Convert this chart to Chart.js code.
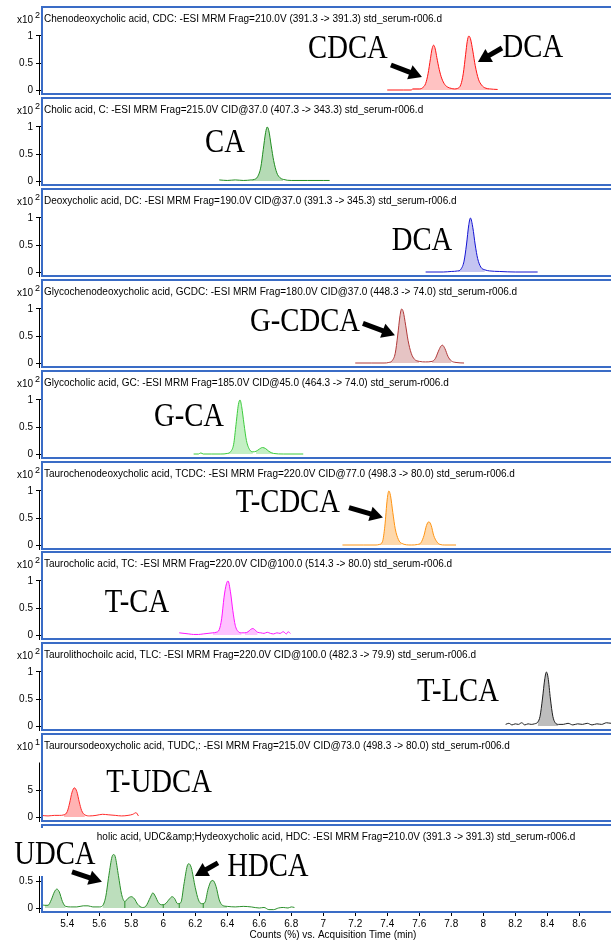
<!DOCTYPE html>
<html><head><meta charset="utf-8">
<script src="https://cdn.jsdelivr.net/npm/chart.js@4.4.0/dist/chart.umd.min.js"></script>
<style>
html,body{margin:0;padding:0;background:#fff;}
#wrap{position:relative;width:611px;height:942px;overflow:hidden;background:#fff;}
#wrap canvas{position:absolute;left:0;}
</style></head><body><div id="wrap"></div>
<script>
// ---------------- DATA ----------------
const xTickValues = [5.4,5.6,5.8,6,6.2,6.4,6.6,6.8,7,7.2,7.4,7.6,7.8,8,8.2,8.4,8.6];
const xTickLabels = ['5.4','5.6','5.8','6','6.2','6.4','6.6','6.8','7','7.2','7.4','7.6','7.8','8','8.2','8.4','8.6'];
const xAxisTitle = 'Counts (%) vs. Acquisition Time (min)';
const panelTitles = [
  'Chenodeoxycholic acid, CDC: -ESI MRM Frag=210.0V (391.3 -> 391.3) std_serum-r006.d',
  'Cholic acid, C: -ESI MRM Frag=215.0V CID@37.0 (407.3 -> 343.3) std_serum-r006.d',
  'Deoxycholic acid, DC: -ESI MRM Frag=190.0V CID@37.0 (391.3 -> 345.3) std_serum-r006.d',
  'Glycochenodeoxycholic acid, GCDC: -ESI MRM Frag=180.0V CID@37.0 (448.3 -> 74.0) std_serum-r006.d',
  'Glycocholic acid, GC: -ESI MRM Frag=185.0V CID@45.0 (464.3 -> 74.0) std_serum-r006.d',
  'Taurochenodeoxycholic acid, TCDC: -ESI MRM Frag=220.0V CID@77.0 (498.3 -> 80.0) std_serum-r006.d',
  'Taurocholic acid, TC: -ESI MRM Frag=220.0V CID@100.0 (514.3 -> 80.0) std_serum-r006.d',
  'Taurolithochoilc acid, TLC: -ESI MRM Frag=220.0V CID@100.0 (482.3 -> 79.9) std_serum-r006.d',
  'Tauroursodeoxycholic acid, TUDC,: -ESI MRM Frag=215.0V CID@73.0 (498.3 -> 80.0) std_serum-r006.d',
  'Ursodeoxycholic acid, UDC&amp;Hydeoxycholic acid, HDC: -ESI MRM Frag=210.0V (391.3 -> 391.3) std_serum-r006.d'
];
const yExponents = [2,2,2,2,2,2,2,2,1,2];
const yUnits = [1,1,1,1,1,1,1,1,10,1];
const yTickSets = [[0,0.5,1],[0,0.5,1],[0,0.5,1],[0,0.5,1],[0,0.5,1],[0,0.5,1],[0,0.5,1],[0,0.5,1],[0,5],[0,0.5,1]];

const cdcTime   = [7.40,7.50,7.55,7.56,7.60,7.62,7.64,7.655,7.67,7.68,7.69,7.70,7.71,7.725,7.74,7.76,7.78,7.80,7.82,7.84,7.86,7.875,7.89,7.90,7.91,7.92,7.935,7.95,7.97,7.99,8.01,8.04,8.09];
const cdcCounts = [0.00,0.00,0.00,0.02,0.02,0.04,0.12,0.30,0.58,0.76,0.83,0.76,0.60,0.38,0.22,0.10,0.05,0.03,0.02,0.03,0.10,0.30,0.66,0.90,1.00,0.95,0.72,0.45,0.20,0.09,0.04,0.02,0.01];

const caTime   = [6.35,6.40,6.45,6.50,6.55,6.57,6.59,6.61,6.625,6.64,6.65,6.66,6.675,6.69,6.71,6.73,6.75,6.80,6.90,7.00,7.04];
const caCounts = [0.02,0.01,0.02,0.01,0.02,0.03,0.08,0.26,0.58,0.90,1.00,0.93,0.65,0.38,0.15,0.06,0.03,0.01,0.01,0.01,0.01];

const dcTime   = [7.64,7.75,7.80,7.84,7.86,7.88,7.895,7.91,7.92,7.935,7.95,7.965,7.985,8.01,8.04,8.10,8.20,8.34];
const dcCounts = [0.00,0.00,0.01,0.02,0.05,0.20,0.50,0.88,1.00,0.82,0.50,0.25,0.09,0.04,0.02,0.01,0.00,0.00];

const gcdcTime   = [7.20,7.30,7.38,7.41,7.43,7.45,7.465,7.48,7.49,7.50,7.515,7.53,7.55,7.57,7.60,7.64,7.68,7.70,7.72,7.735,7.745,7.76,7.78,7.80,7.83,7.88];
const gcdcCounts = [0.00,0.00,0.00,0.01,0.04,0.18,0.50,0.88,1.00,0.95,0.70,0.42,0.18,0.07,0.03,0.02,0.03,0.08,0.22,0.31,0.33,0.27,0.12,0.04,0.01,0.00];

const gcTime   = [6.19,6.22,6.235,6.25,6.30,6.36,6.40,6.42,6.44,6.455,6.47,6.48,6.49,6.505,6.52,6.54,6.56,6.58,6.60,6.62,6.64,6.66,6.69,6.75,6.875];
const gcCounts = [0.00,0.00,0.02,0.00,0.00,0.00,0.01,0.04,0.18,0.55,0.92,1.00,0.88,0.55,0.25,0.08,0.04,0.05,0.09,0.12,0.10,0.05,0.01,0.00,0.00];

const tcdcTime   = [7.12,7.25,7.33,7.35,7.37,7.385,7.40,7.41,7.42,7.435,7.45,7.47,7.49,7.55,7.59,7.61,7.63,7.645,7.66,7.675,7.69,7.71,7.73,7.76,7.83];
const tcdcCounts = [0.00,0.00,0.00,0.01,0.06,0.35,0.85,1.00,0.92,0.60,0.30,0.10,0.03,0.00,0.01,0.04,0.18,0.36,0.43,0.36,0.18,0.06,0.01,0.00,0.00];

const tcTime   = [6.10,6.13,6.16,6.19,6.22,6.25,6.28,6.31,6.33,6.35,6.365,6.38,6.395,6.405,6.42,6.435,6.45,6.47,6.49,6.51,6.53,6.545,6.56,6.575,6.59,6.61,6.63,6.65,6.67,6.69,6.71,6.73,6.75,6.77,6.78,6.795];
const tcCounts = [0.04,0.03,0.02,0.01,0.01,0.02,0.03,0.04,0.05,0.10,0.30,0.70,0.95,1.00,0.80,0.45,0.18,0.06,0.04,0.04,0.06,0.10,0.12,0.09,0.05,0.04,0.03,0.05,0.03,0.02,0.04,0.03,0.06,0.02,0.06,0.03];

const tlcTime   = [8.14,8.16,8.18,8.20,8.22,8.24,8.26,8.28,8.30,8.32,8.34,8.355,8.37,8.385,8.395,8.405,8.42,8.435,8.45,8.47,8.50,8.53,8.56,8.59,8.62,8.65,8.68,8.71,8.74,8.77,8.80,8.83,8.86,8.89];
const tlcCounts = [0.03,0.05,0.02,0.04,0.03,0.06,0.02,0.04,0.03,0.04,0.07,0.18,0.50,0.88,1.00,0.90,0.50,0.18,0.06,0.03,0.03,0.05,0.02,0.04,0.03,0.05,0.02,0.04,0.03,0.06,0.05,0.09,0.07,0.10];

const tudcTime   = [5.24,5.28,5.32,5.35,5.38,5.40,5.415,5.43,5.445,5.46,5.475,5.49,5.51,5.54,5.58,5.62,5.66,5.70,5.74,5.78,5.81,5.83,5.845];
const tudcCounts = [0.3,0.2,0.3,0.3,0.4,1.0,2.6,4.6,5.4,4.7,2.8,1.2,0.4,0.2,0.3,0.5,0.4,0.3,0.2,0.3,0.5,0.8,0.2];

const udcTime   = [5.24,5.26,5.28,5.30,5.32,5.335,5.35,5.37,5.39,5.42,5.46,5.50,5.53,5.56,5.60,5.62,5.64,5.66,5.68,5.69,5.70,5.72,5.74,5.76,5.78,5.80,5.82,5.84,5.87,5.89,5.92,5.935,5.95,5.97,5.99,6.01,6.04,6.055,6.07,6.09,6.11,6.13,6.15,6.16,6.175,6.20,6.22,6.24,6.26,6.28,6.30,6.31,6.33,6.35,6.37,6.40,6.45,6.50,6.55,6.60,6.63,6.66,6.69,6.72,6.75,6.78,6.80,6.82];
const udcCounts = [0.06,0.05,0.05,0.15,0.30,0.35,0.30,0.12,0.03,0.02,0.02,0.04,0.04,0.02,0.02,0.04,0.20,0.60,0.95,0.99,0.95,0.60,0.25,0.12,0.18,0.21,0.17,0.07,0.01,0.03,0.20,0.28,0.22,0.10,0.06,0.07,0.17,0.21,0.18,0.08,0.10,0.45,0.78,0.82,0.75,0.38,0.15,0.08,0.10,0.35,0.50,0.51,0.40,0.15,0.05,0.03,0.02,0.03,0.02,0.00,0.01,-0.03,-0.03,0.00,0.01,0.00,0.02,0.01];
const udcDropTimes  = [5.76,6.00,6.10,6.25];
const udcDropCounts = [0.12,0.065,0.09,0.09];

// ---------------- PANEL SETUP ----------------
const seriesTime   = [cdcTime,caTime,dcTime,gcdcTime,gcTime,tcdcTime,tcTime,tlcTime,tudcTime,udcTime];
const seriesCounts = [cdcCounts,caCounts,dcCounts,gcdcCounts,gcCounts,tcdcCounts,tcCounts,tlcCounts,tudcCounts,udcCounts];
const fillRanges = [
  [[7.56,8.05]],[[6.55,6.76]],[[7.83,8.03]],[[7.40,7.62],[7.67,7.82]],[[6.38,6.57],[6.57,6.69]],
  [[7.34,7.50],[7.59,7.74]],[[6.31,6.50],[6.50,6.60]],[[8.33,8.48]],[[5.38,5.52]],[[5.26,5.40],[5.62,6.40]]
];
const lineColors = ['#ff1414','#1e8c1e','#1212d2','#b03838','#3ccc3c','#ff9412','#ff14ff','#1e1e1e','#ff2a2a','#2a8f2a'];
const fillColors = ['#ffc2c2','#b5dbb5','#c4c4f2','#e6c4c4','#c4f0c4','#fed8ab','#ffc2ff','#bdbdbd','#ffb3b3','#bcdebc'];
const annotations = [
  {labels:[{t:'CDCA',x:7.154,y:0.76},{t:'DCA',x:8.31,y:0.78}], arrows:[[7.423,0.463,7.617,0.241],[8.117,0.778,7.967,0.519]]},
  {labels:[{t:'CA',x:6.386,y:0.70}], arrows:[]},
  {labels:[{t:'DCA',x:7.617,y:0.57}], arrows:[]},
  {labels:[{t:'G-CDCA',x:6.886,y:0.75}], arrows:[[7.248,0.735,7.448,0.513]]},
  {labels:[{t:'G-CA',x:6.161,y:0.68}], arrows:[]},
  {labels:[{t:'T-CDCA',x:6.779,y:0.77}], arrows:[[7.161,0.694,7.373,0.509]]},
  {labels:[{t:'T-CA',x:5.836,y:0.58}], arrows:[]},
  {labels:[{t:'T-LCA',x:7.842,y:0.62}], arrows:[]},
  {labels:[{t:'T-UDCA',x:5.974,y:6.3}], arrows:[]},
  {labels:[{t:'UDCA',x:5.323,y:0.98},{t:'HDCA',x:6.654,y:0.76}], arrows:[[5.43,0.669,5.617,0.484],[6.342,0.835,6.198,0.594]], cover:true}
];

const X_MIN = 5.236, X_MAX = 8.886;
const PITCH = 90.9;
const SANS = '"Liberation Sans", Arial, sans-serif';
const SERIF = '"Liberation Serif", "Times New Roman", serif';
Chart.defaults.font.family = SANS;

function drawArrow(ctx,x1,y1,x2,y2){
  const ang = Math.atan2(y2-y1,x2-x1), L = 13, W = 7.5;
  const bx = x2 - L*Math.cos(ang), by = y2 - L*Math.sin(ang);
  ctx.strokeStyle = '#000'; ctx.fillStyle = '#000';
  ctx.lineWidth = 5; ctx.lineCap = 'butt';
  ctx.beginPath(); ctx.moveTo(x1,y1); ctx.lineTo(bx+Math.cos(ang),by+Math.sin(ang)); ctx.stroke();
  ctx.beginPath(); ctx.moveTo(x2,y2);
  ctx.lineTo(bx - W*Math.sin(ang), by + W*Math.cos(ang));
  ctx.lineTo(bx + W*Math.sin(ang), by - W*Math.cos(ang));
  ctx.closePath(); ctx.fill();
}

const decoPlugin = {
  id: 'deco',
  afterDraw(chart, args, o) {
    const {ctx, chartArea: a, scales: {x, y}} = chart;
    ctx.save();
    const yt = y.getPixelForValue(o.topTick);
    ctx.strokeStyle = '#000'; ctx.lineWidth = 1;
    ctx.beginPath(); ctx.moveTo(39.5, yt - 0.5); ctx.lineTo(39.5, a.bottom + 1); ctx.stroke();
    ctx.strokeStyle = '#3a6cc6'; ctx.lineWidth = 2;
    ctx.strokeRect(a.left + 1, a.top, (a.right - a.left) + 30, a.bottom - a.top);
    ctx.fillStyle = '#000';
    ctx.font = '10px ' + SANS; ctx.textBaseline = 'middle'; ctx.textAlign = 'left';
    ctx.fillText(o.title, a.left + 3, a.top + 12);
    ctx.textAlign = 'right'; ctx.fillText('x10', 33, a.top + 13);
    ctx.textAlign = 'left'; ctx.font = '9px ' + SANS; ctx.fillText(String(o.exp), 35, a.top + 9);
    if (o.cover) { ctx.fillStyle = '#fff'; ctx.fillRect(11, a.top + 3, 86, 48); }
    ctx.fillStyle = '#000';
    o.labels.forEach(l => {
      ctx.save();
      ctx.translate(x.getPixelForValue(l.x), y.getPixelForValue(l.y));
      ctx.scale(0.87, 1);
      ctx.font = '33px ' + SERIF; ctx.textAlign = 'center'; ctx.textBaseline = 'middle';
      ctx.fillText(l.t, 0, 0);
      ctx.restore();
    });
    o.arrows.forEach(r => drawArrow(ctx, x.getPixelForValue(r[0]), y.getPixelForValue(r[1]), x.getPixelForValue(r[2]), y.getPixelForValue(r[3])));
    ctx.restore();
  }
};

const wrap = document.getElementById('wrap');
for (let i = 0; i < 10; i++) {
  const isLast = i === 9;
  const top = Math.round(PITCH * i) - 4;
  const h = isLast ? 942 - top : 108;
  const c = document.createElement('canvas');
  c.width = 640; c.height = h;
  c.style.width = '640px'; c.style.height = h + 'px'; c.style.top = top + 'px';
  wrap.appendChild(c);

  const ticks = yTickSets[i];
  const unit = yUnits[i];
  const yMin = -0.074 * unit, yMax = 1.537 * unit;
  const tArr = seriesTime[i], cArr = seriesCounts[i];
  const pts = tArr.map((t, k) => ({x: t, y: cArr[k]}));

  const datasets = [{
    data: pts, borderColor: lineColors[i], borderWidth: 1, pointRadius: 0, fill: false,
    cubicInterpolationMode: 'monotone', order: 0
  }];
  fillRanges[i].forEach(r => {
    datasets.push({
      data: pts.filter(p => p.x >= r[0] - 1e-9 && p.x <= r[1] + 1e-9),
      borderWidth: 0, borderColor: 'rgba(0,0,0,0)', backgroundColor: fillColors[i], pointRadius: 0,
      fill: 'origin', cubicInterpolationMode: 'monotone', order: 2
    });
  });
  if (isLast) {
    udcDropTimes.forEach((t, k) => {
      datasets.push({data: [{x: t, y: 0}, {x: t, y: udcDropCounts[k]}], borderColor: lineColors[i], borderWidth: 1, pointRadius: 0, fill: false, order: 1});
    });
  }

  const xScale = {
    type: 'linear', min: X_MIN, max: X_MAX, display: isLast,
    afterBuildTicks: s => { s.ticks = xTickValues.map(v => ({value: v})); },
    grid: {drawOnChartArea: false, drawTicks: true, tickLength: 4, color: '#000'},
    border: {display: false},
    ticks: {autoSkip: false, maxRotation: 0, padding: 2, color: '#000', font: {size: 10},
            callback: (v, idx) => xTickLabels[idx]},
    title: {display: true, text: xAxisTitle, color: '#000', font: {size: 10}, padding: {top: 0, bottom: 1}}
  };
  if (isLast) xScale.afterFit = s => { s.height = 30; };

  new Chart(c, {
    type: 'line',
    data: {datasets},
    plugins: [decoPlugin],
    options: {
      responsive: false, animation: false, devicePixelRatio: 1,
      events: [],
      layout: {padding: {top: 11, bottom: isLast ? 0 : 10, left: 0, right: 15}},
      plugins: {
        legend: {display: false}, tooltip: {enabled: false},
        deco: {title: panelTitles[i], exp: yExponents[i], topTick: unit, labels: annotations[i].labels, arrows: annotations[i].arrows, cover: !!annotations[i].cover}
      },
      scales: {
        x: xScale,
        y: {
          type: 'linear', position: 'left', min: yMin, max: yMax,
          afterBuildTicks: s => { s.ticks = ticks.map(v => ({value: v})); },
          afterFit: s => { s.width = 41; },
          grid: {drawOnChartArea: false, drawTicks: true, tickLength: 5, color: '#000'},
          border: {display: false},
          ticks: {padding: 3, color: '#000', font: {size: 10}, callback: v => String(v)}
        }
      }
    }
  });
}
</script></body></html>
